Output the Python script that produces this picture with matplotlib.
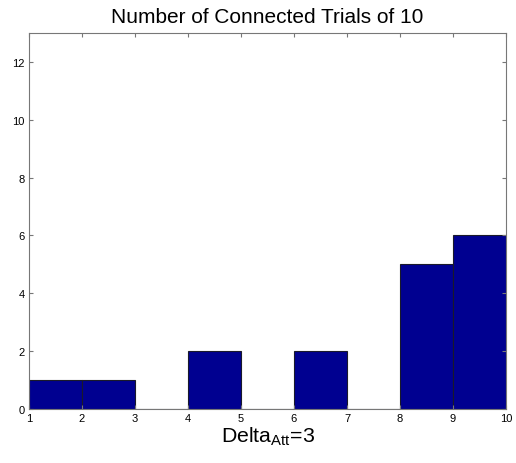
import matplotlib
matplotlib.use('Agg')
import matplotlib.pyplot as plt

# histogram bins (left edges) and counts
bin_left = [1, 2, 3, 4, 5, 6, 7, 8, 9]
counts = [1, 1, 0, 2, 0, 2, 0, 5, 6]
xticks = [1, 2, 3, 4, 5, 6, 7, 8, 9, 10]
yticks = [0, 2, 4, 6, 8, 10, 12]

plt.rcParams['font.family'] = ['Liberation Sans', 'DejaVu Sans']

fig = plt.figure(figsize=(5.16, 4.64), dpi=100)
ax = fig.add_axes([0.0562, 0.1164, 0.9244, 0.8103])

ax.bar(bin_left, counts, width=1, align='edge', color='#000090', edgecolor='#1a1a2a', linewidth=0.8)

ax.set_xlim(1, 10)
ax.set_ylim(0, 13)
ax.set_xticks(xticks)
ax.set_yticks(yticks)
ax.tick_params(direction='in', length=3, labelsize=8, top=True, right=True, color='#777777', pad=3)
for s in ax.spines.values():
    s.set_color('#777777')
    s.set_linewidth(0.8)

ax.set_title('Number of Connected Trials of 10', fontsize=15, pad=8)
ax.set_xlabel(r'Delta$_{\mathregular{Att}}$=3', fontsize=15.3, labelpad=1)

fig.savefig('out.png', dpi=100)
